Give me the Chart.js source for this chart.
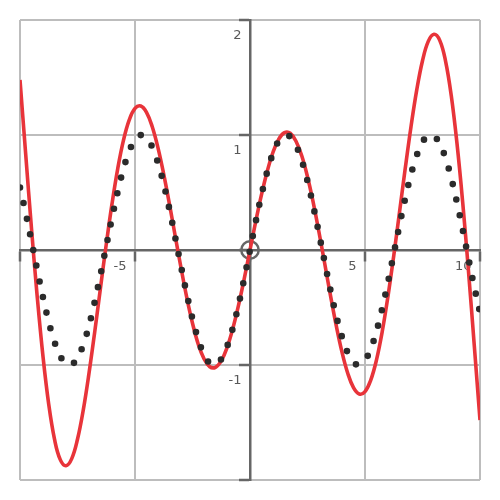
<!DOCTYPE html>
<html>
<head>
<meta charset="utf-8">
<script src="https://cdn.jsdelivr.net/npm/chart.js@4.4.1/dist/chart.umd.min.js"></script>
<style>
  html, body { margin: 0; padding: 0; background: #fff; }
  #wrap { width: 500px; height: 500px; }
</style>
</head>
<body>
<div id="wrap"><canvas id="c" width="500" height="500"></canvas></div>
<script>
// x positions of the sampled points
const xVals = [-10, -9.75, -9.5, -9.25, -9, -8.75, -8.5, -8.25, -8, -7.75, -7.5, -7.25, -7, -6.75, -6.5, -6.25,
  -6, -5.75, -5.5, -5.25, -5, -4.75, -4.5, -4.25, -4, -3.75, -3.5, -3.25, -3, -2.75, -2.5, -2.25,
  -2, -1.75, -1.5, -1.25, -1, -0.75, -0.5, -0.25, 0, 0.25, 0.5, 0.75, 1, 1.25, 1.5, 1.75,
  2, 2.25, 2.5, 2.75, 3, 3.25, 3.5, 3.75, 4, 4.25, 4.5, 4.75, 5, 5.25, 5.5, 5.75,
  6, 6.25, 6.5, 6.75, 7, 7.25, 7.5, 7.75, 8, 8.25, 8.5, 8.75, 9, 9.25, 9.5, 9.75, 10];

// dotted black curve
const dottedVals = [0.544, 0.320, 0.075, -0.174, -0.412, -0.625, -0.799, -0.923, -0.989, -0.995, -0.938, -0.823, -0.657, -0.450, -0.215, 0.033,
  0.279, 0.508, 0.706, 0.859, 0.959, 0.999, 0.978, 0.895, 0.757, 0.572, 0.351, 0.108, -0.141, -0.382, -0.599, -0.778,
  -0.909, -0.984, -0.997, -0.949, -0.841, -0.682, -0.479, -0.247, 0, 0.247, 0.479, 0.682, 0.841, 0.949, 0.997, 0.984,
  0.909, 0.778, 0.599, 0.382, 0.141, -0.108, -0.351, -0.572, -0.757, -0.895, -0.978, -0.999, -0.959, -0.859, -0.706, -0.508,
  -0.279, -0.033, 0.215, 0.450, 0.657, 0.823, 0.938, 0.995, 0.989, 0.923, 0.799, 0.625, 0.412, 0.174, -0.075, -0.320, -0.544];

// solid red curve
const redVals = [1.479, 0.827, 0.185, -0.409, -0.926, -1.343, -1.645, -1.823, -1.876, -1.814, -1.646, -1.392, -1.072, -0.710, -0.328, 0.049,
  0.401, 0.708, 0.955, 1.131, 1.231, 1.252, 1.197, 1.072, 0.888, 0.658, 0.397, 0.120, -0.154, -0.412, -0.637, -0.819,
  -0.946, -1.015, -1.020, -0.964, -0.850, -0.685, -0.481, -0.248, 0, 0.248, 0.481, 0.685, 0.850, 0.964, 1.020, 1.015,
  0.946, 0.819, 0.637, 0.412, 0.154, -0.120, -0.397, -0.658, -0.888, -1.072, -1.197, -1.252, -1.231, -1.131, -0.955, -0.708,
  -0.401, -0.049, 0.328, 0.710, 1.072, 1.392, 1.646, 1.814, 1.876, 1.823, 1.645, 1.343, 0.926, 0.409, -0.185, -0.827, -1.479];

// marked point
const markX = [0];
const markY = [0];

// tick labels
const xTickValues = [-5, 5, 10];
const xTickLabels = ['-5', '5', '10'];
const yTickValues = [2, 1, -1];
const yTickLabels = ['2', '1', '-1'];

const GRID = '#bdbdbd';
const AXIS = '#666666';

const labelPlugin = {
  id: 'axisLabels',
  beforeDatasetsDraw(chart) {
    const { ctx, chartArea, scales } = chart;
    const xs = scales.x, ys = scales.y;
    const x0 = xs.getPixelForValue(0), y0 = ys.getPixelForValue(0);
    ctx.save();
    ctx.beginPath();
    ctx.rect(chartArea.left, chartArea.top, chartArea.right - chartArea.left, chartArea.bottom - chartArea.top);
    ctx.clip();
    ctx.font = '13px "DejaVu Sans", Verdana, sans-serif';
    ctx.fillStyle = '#585858';
    ctx.textAlign = 'right';
    ctx.textBaseline = 'alphabetic';
    xTickValues.forEach((v, i) => ctx.fillText(xTickLabels[i], xs.getPixelForValue(v) - 8.5, y0 + 20));
    yTickValues.forEach((v, i) => ctx.fillText(yTickLabels[i], x0 - 8.5, ys.getPixelForValue(v) + 18.7));
    ctx.restore();
  }
};

const gridColor = (c) => (c.tick && c.tick.value === 0 ? 'rgba(0,0,0,0)' : GRID);

new Chart(document.getElementById('c'), {
  type: 'line',
  data: {
    datasets: [
      {
        label: 'dotted',
        data: xVals.map((x, i) => ({ x, y: dottedVals[i] })),
        borderColor: '#2b2b2b',
        borderWidth: 6.6,
        borderDash: [0, 16],
        borderCapStyle: 'round',
        borderJoinStyle: 'round',
        pointRadius: 0,
        tension: 0.4,
        fill: false,
        order: 1
      },
      {
        label: 'red',
        data: xVals.map((x, i) => ({ x, y: redVals[i] })),
        borderColor: 'rgb(232,52,58)',
        borderWidth: 3.6,
        borderCapStyle: 'butt',
        borderJoinStyle: 'round',
        pointRadius: 0,
        tension: 0.4,
        fill: false,
        order: 2
      },
      {
        label: 'origin',
        data: markX.map((x, i) => ({ x, y: markY[i] })),
        showLine: false,
        pointRadius: 8.7,
        pointBorderWidth: 2.5,
        pointBorderColor: AXIS,
        pointBackgroundColor: 'rgba(0,0,0,0)',
        order: 3
      }
    ]
  },
  options: {
    responsive: false,
    animation: false,
    events: [],
    layout: { padding: 20 },
    plugins: { legend: { display: false }, tooltip: { enabled: false } },
    scales: {
      x: {
        type: 'linear',
        min: -10, max: 10,
        position: { y: 0 },
        ticks: { stepSize: 5, display: false },
        grid: { color: gridColor, lineWidth: 2, drawTicks: true, tickLength: 10, tickColor: AXIS, tickWidth: 2.5 },
        border: { display: true, color: AXIS, width: 2.5 }
      },
      y: {
        type: 'linear',
        min: -2, max: 2,
        position: { x: 0 },
        ticks: { stepSize: 1, display: false },
        grid: { color: gridColor, lineWidth: 2, drawTicks: true, tickLength: 10, tickColor: AXIS, tickWidth: 2.5 },
        border: { display: true, color: AXIS, width: 2.5 }
      }
    }
  },
  plugins: [labelPlugin]
});
</script>
</body>
</html>
